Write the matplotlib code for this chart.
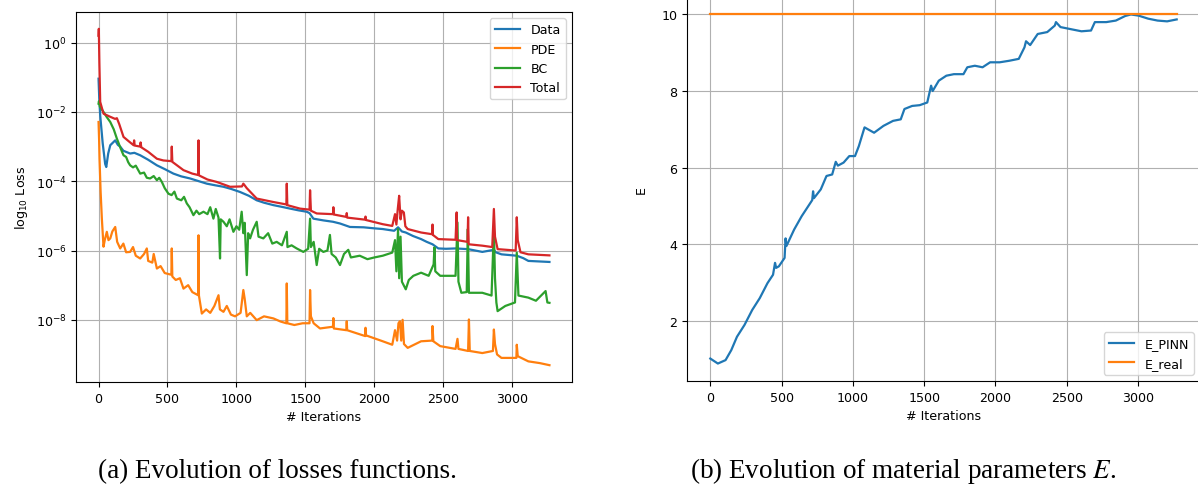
import numpy as np
import matplotlib
matplotlib.use("Agg")
import matplotlib.pyplot as plt

# ---- losses (log10 values) ----
total_it = [0, 2, 6, 12, 36, 85, 120, 133, 150, 181, 220, 254, 258, 262, 302, 305, 310, 360, 423, 470, 528,
            531, 535, 616, 680, 722, 725, 728, 790, 857, 954, 1040, 1050, 1060, 1075, 1147, 1268, 1362, 1365,
            1369, 1461, 1530, 1534, 1540, 1582, 1700, 1703, 1706, 1797, 1800, 1803,
            1934, 1936, 1940, 2061, 2130, 2150, 2160, 2170, 2180, 2190, 2200, 2214, 2225, 2242, 2339,
            2420, 2422, 2425, 2464, 2589, 2597, 2600, 2676, 2680, 2684, 2783, 2855, 2867, 2875, 2894,
            3025, 3033, 3040, 3060, 3117, 3270]
total_log = [0.2, 0.4, -0.6, -1.71, -2.05, -2.14, -2.2, -2.18, -2.35, -2.72, -2.85, -2.96, -2.82, -2.97, -3.0,
             -2.88, -3.02, -3.15, -3.35, -3.4, -3.42, -3.0, -3.44, -3.68, -3.78, -3.82, -2.82, -3.83, -3.95,
             -4.02, -4.16, -4.15, -4.07, -4.12, -4.2, -4.5, -4.6, -4.67, -4.07, -4.69, -4.79, -4.82, -4.26,
             -4.85, -4.93, -4.95, -4.75, -4.96, -5.03, -4.92, -5.05,
             -5.11, -5.02, -5.12, -5.24, -5.29, -4.95, -5.25, -4.8, -4.42, -5.1, -4.85, -4.9, -5.3, -5.38,
             -5.48, -5.53, -5.25, -5.55, -5.67, -5.69, -4.9, -5.7, -5.75, -5.04, -5.82, -5.86, -5.9, -4.80,
             -5.6, -5.96, -6.0, -5.04, -5.7, -6.05, -6.11, -6.14]

data_it = [0, 5, 12, 30, 48, 56, 70, 85, 121, 140, 157, 180, 229, 260, 302, 360, 423, 480, 543, 600, 664,
           720, 785, 850, 906, 960, 1026, 1090, 1147, 1200, 1268, 1330, 1389, 1450, 1509, 1530, 1558, 1630,
           1700, 1751, 1823, 1922, 2000, 2061, 2144, 2172, 2200, 2228, 2280, 2339, 2380, 2422, 2464, 2520,
           2589, 2680, 2783, 2867, 2880, 2922, 3033, 3080, 3117, 3270]
data_log = [-1.04, -1.6, -2.1, -2.9, -3.5, -3.59, -3.2, -2.96, -2.82, -2.95, -3.0, -3.12, -3.2, -3.18, -3.25,
            -3.38, -3.54, -3.65, -3.78, -3.86, -3.92, -3.99, -4.07, -4.12, -4.16, -4.22, -4.31, -4.42, -4.55,
            -4.62, -4.69, -4.74, -4.79, -4.84, -4.88, -4.92, -5.08, -5.13, -5.17, -5.22, -5.32, -5.33, -5.36,
            -5.38, -5.43, -5.33, -5.45, -5.48, -5.58, -5.67, -5.75, -5.82, -5.94, -5.95, -5.94, -5.96, -6.04,
            -5.98, -6.05, -6.11, -6.15, -6.22, -6.30, -6.33]

bc_it = [0, 3, 10, 36, 60, 85, 110, 133, 160, 181, 200, 215, 229, 250, 270, 302, 330, 350, 374, 400, 423, 440,
         459, 480, 507, 530, 550, 568, 600, 620, 640, 660, 688, 710, 730, 761, 790, 810, 833, 850, 870, 881,
         886, 906, 930, 950, 978, 1000, 1020, 1038, 1050, 1060, 1075, 1085, 1099, 1120, 1147, 1160, 1195,
         1230, 1260, 1292, 1330, 1365, 1370, 1400, 1437, 1485, 1520, 1534, 1540, 1560, 1582, 1600, 1630,
         1660, 1678, 1690, 1720, 1751, 1780, 1811, 1830, 1894, 1950, 2000, 2061, 2130, 2150, 2160, 2172,
         2180, 2190, 2200, 2228, 2250, 2283, 2339, 2394, 2430, 2436, 2442, 2478, 2589, 2603, 2610, 2631,
         2670, 2678, 2686, 2783, 2850, 2867, 2875, 2885, 2894, 2950, 3020, 3033, 3045, 3117, 3172, 3242,
         3255, 3270]
bc_log = [-1.76, -1.69, -1.85, -2.0, -2.15, -2.29, -2.5, -2.77, -3.05, -3.25, -3.3, -3.45, -3.54, -3.6, -3.55,
          -3.78, -3.75, -3.9, -3.92, -3.85, -3.97, -3.9, -4.02, -4.2, -4.36, -4.4, -4.3, -4.5, -4.55, -4.45,
          -4.64, -4.75, -4.98, -4.85, -4.95, -4.88, -4.95, -4.75, -5.08, -4.8, -5.05, -6.23, -5.1, -5.17,
          -5.3, -5.1, -5.46, -5.3, -5.4, -4.88, -5.5, -5.2, -6.71, -5.5, -5.65, -5.4, -5.17, -5.6, -5.65,
          -5.5, -5.8, -5.75, -5.85, -5.46, -5.9, -5.85, -5.94, -6.04, -5.95, -5.08, -5.9, -5.75, -6.42,
          -5.95, -6.04, -6.0, -5.55, -6.1, -6.2, -6.42, -6.1, -5.98, -6.2, -6.15, -6.25, -6.2, -6.15, -6.06,
          -5.7, -6.6, -5.38, -6.8, -5.6, -6.9, -7.12, -6.85, -6.73, -6.64, -6.73, -6.4, -5.91, -6.6, -6.73,
          -6.73, -5.19, -6.9, -7.22, -7.2, -5.38, -7.22, -7.22, -7.3, -5.38, -6.8, -7.5, -7.75, -7.60, -7.5,
          -6.06, -7.3, -7.36, -7.45, -7.17, -7.5, -7.51]

pde_it = [0, 4, 7, 15, 24, 36, 45, 60, 72, 85, 100, 121, 135, 157, 180, 200, 229, 250, 270, 302, 330, 350,
          360, 390, 400, 423, 450, 480, 528, 531, 535, 560, 590, 616, 650, 680, 722, 725, 728, 749, 780, 810,
          840, 870, 880, 906, 930, 960, 990, 1030, 1050, 1060, 1075, 1100, 1147, 1200, 1268, 1320, 1362,
          1365, 1369, 1420, 1480, 1530, 1534, 1540, 1560, 1606, 1700, 1703, 1706, 1797, 1800, 1803,
          1934, 1936, 1940, 2061, 2130, 2150, 2165, 2175, 2186, 2195, 2205, 2215, 2242, 2339, 2420, 2422,
          2428, 2478, 2589, 2603, 2610, 2680, 2686, 2692, 2783, 2860, 2867, 2875, 2890, 2922, 3030, 3033,
          3040, 3117, 3200, 3270]
pde_log = [-2.29, -2.8, -3.35, -4.3, -5.08, -5.89, -5.7, -5.46, -5.7, -5.65, -5.45, -5.32, -5.75, -5.94, -5.8,
           -6.05, -6.04, -5.9, -6.15, -6.23, -6.1, -5.94, -6.3, -6.35, -6.1, -6.52, -6.45, -6.65, -6.7, -5.94,
           -6.75, -6.85, -6.8, -7.10, -7.0, -7.2, -7.29, -5.56, -7.3, -7.82, -7.7, -7.8, -7.6, -7.29, -7.7,
           -7.77, -7.6, -7.85, -7.9, -7.8, -7.14, -7.4, -7.9, -7.8, -8.01, -7.9, -7.96, -8.05, -8.1, -6.95,
           -8.1, -8.15, -8.1, -8.1, -7.14, -7.9, -8.1, -8.25, -8.2, -7.95, -8.25, -8.3, -8.04, -8.3,
           -8.47, -8.23, -8.45, -8.62, -8.72, -8.3, -8.6, -8.1, -8.04, -8.6, -8.0, -8.7, -8.81, -8.62, -8.6,
           -8.18, -8.62, -8.76, -8.84, -8.55, -8.84, -8.9, -7.99, -8.9, -8.96, -8.9, -8.28, -8.7, -9.0, -9.10,
           -9.1, -8.72, -9.05, -9.20, -9.25, -9.31]

# ---- material parameter E ----
e_it = [0, 53, 107, 147, 187, 240, 294, 347, 401, 440, 454, 462, 481, 521, 528, 534, 588, 641, 715, 721, 727,
        775, 815, 855, 880, 895, 935, 975, 1015, 1042, 1082, 1149, 1215, 1282, 1336, 1362, 1416, 1469, 1522,
        1549, 1560, 1603, 1656, 1709, 1776, 1803, 1856, 1910, 1963, 2030, 2097, 2164, 2204, 2215, 2244,
        2297, 2364, 2417, 2425, 2457, 2537, 2604, 2671, 2698, 2778, 2845, 2911, 2951, 3004, 3072, 3138,
        3205, 3272]
e_pinn = [1.01, 0.88, 0.97, 1.23, 1.58, 1.89, 2.28, 2.59, 2.98, 3.2, 3.51, 3.38, 3.42, 3.64, 4.15, 3.95,
          4.38, 4.73, 5.15, 5.38, 5.2, 5.43, 5.78, 5.82, 6.15, 6.05, 6.13, 6.30, 6.30, 6.56, 7.05, 6.91, 7.09,
          7.22, 7.26, 7.53, 7.61, 7.63, 7.70, 8.14, 8.0, 8.27, 8.40, 8.44, 8.44, 8.62, 8.66, 8.62, 8.75, 8.75,
          8.79, 8.84, 9.14, 9.3, 9.2, 9.49, 9.54, 9.71, 9.8, 9.67, 9.61, 9.56, 9.58, 9.80, 9.80, 9.84, 9.96,
          10.0, 9.97, 9.89, 9.84, 9.82, 9.87]
e_real = 10.0

fs = 9.1
plt.rcParams['font.size'] = fs
plt.rcParams['mathtext.fontset'] = 'dejavusans'

fig = plt.figure(figsize=(11.98, 4.89), dpi=100)
ax1 = fig.add_axes([76/1198, 1-383/489, 496/1198, 370/489])
ax2 = fig.add_axes([687/1198, 1-382/489, 513/1198, 384/489])

lw = 1.6
ax1.plot(data_it, 10**np.array(data_log), color='C0', lw=lw, label='Data')
ax1.plot(pde_it, 10**np.array(pde_log), color='C1', lw=lw, label='PDE')
ax1.plot(bc_it, 10**np.array(bc_log), color='C2', lw=lw, label='BC')
ax1.plot(total_it, 10**np.array(total_log), color='C3', lw=lw, label='Total')
ax1.set_yscale('log')
ax1.set_xticks([0, 500, 1000, 1500, 2000, 2500, 3000])
ax1.set_xlabel('# Iterations')
ax1.set_ylabel(r'log$_{10}$ Loss')
ax1.grid(True)
ax1.legend(loc='upper right')

ax2.plot(e_it, e_pinn, color='C0', lw=lw, label='E_PINN')
ax2.plot([e_it[0], e_it[-1]], [e_real, e_real], color='C1', lw=lw, label='E_real')
ax2.set_xticks([0, 500, 1000, 1500, 2000, 2500, 3000])
ax2.set_yticks([2, 4, 6, 8, 10])
ax2.set_xlabel('# Iterations')
ax2.set_ylabel('E', labelpad=10)
ax2.grid(True)
ax2.legend(loc='lower right')

cap = dict(family='Liberation Serif', fontsize=19.5, va='baseline', ha='left', math_fontfamily='stix')
fig.text(98/1198, 1-478/489, '(a) Evolution of losses functions.', **cap)
fig.text(690/1198, 1-478/489, '(b) Evolution of material parameters $E$.', **cap)

fig.savefig('out.png', dpi=100)
